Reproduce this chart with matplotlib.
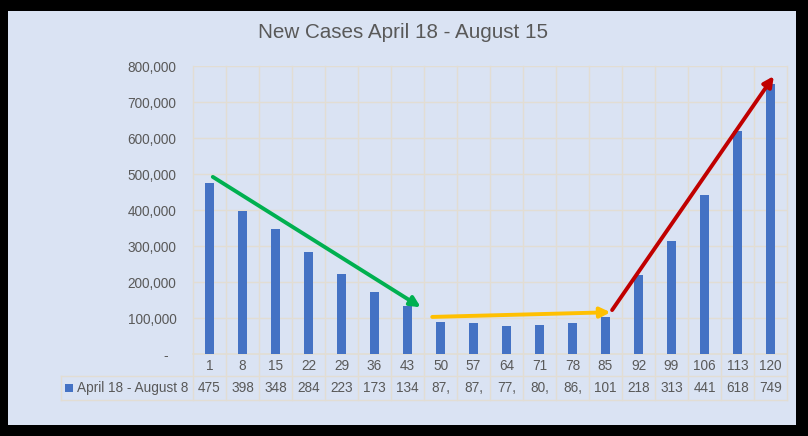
import matplotlib.pyplot as plt
from matplotlib.patches import Rectangle
import numpy as np

days = [1, 8, 15, 22, 29, 36, 43, 50, 57, 64, 71, 78, 85, 92, 99, 106, 113, 120]
new_cases = [475200, 398400, 348100, 284500, 223300, 173600, 134200, 87900, 87300,
             77500, 80400, 86700, 101500, 218600, 313900, 441200, 618300, 749100]
series_name = "April 18 - August 8"
title = "New Cases April 18 - August 15"
yticks = [0, 100000, 200000, 300000, 400000, 500000, 600000, 700000, 800000]

# trend arrows drawn over the bars: (x0, y0, x1, y1, colour)
arrows = [
    (0.1, 492000, 6.4, 130000, "#00b050"),
    (6.75, 103000, 12.15, 116000, "#ffc000"),
    (12.2, 122000, 17.1, 772000, "#c00000"),
]

W, H = 808, 436
BG = "#dae3f3"
GRID = "#e2ddd3"
TXT = "#595959"
BAR = "#4472c4"
FONT = "Liberation Sans"

fig = plt.figure(figsize=(W / 100, H / 100), dpi=100, facecolor="black")
fig.patches.append(Rectangle((8 / W, 1 - 425 / H), 788 / W, 414 / H,
                             transform=fig.transFigure, facecolor=BG, edgecolor="none",
                             zorder=-10))

L, R, T, B = 193, 787, 66, 354
ax = fig.add_axes([L / W, 1 - B / H, (R - L) / W, (B - T) / H])
ax.patch.set_alpha(0)

x = np.arange(len(days))
ax.bar(x, new_cases, width=0.3, color=BAR, zorder=3)
ax.set_xlim(-0.5, len(days) - 0.5)
ax.set_ylim(0, 800000)
ax.set_yticks(yticks)
ax.set_yticklabels([f"{v:,}" if v else "-  " for v in yticks],
                   fontsize=9.8, color=TXT, family=FONT)
ax.tick_params(axis="y", length=0, pad=12)
ax.set_xticks([])
for s in ax.spines.values():
    s.set_visible(False)
for v in yticks[1:]:
    ax.axhline(v, color=GRID, lw=1, zorder=1)

# data table below the plot, in pixel rows
row1, row2, row3 = 354, 376, 400
ytr = lambda py: (B - py) / (B - T)
trans = ax.get_xaxis_transform()
for xb in np.arange(-0.5, len(days)):
    ax.plot([xb, xb], [1, ytr(row3)], transform=trans, color=GRID, lw=1,
            clip_on=False, zorder=1)
ax.plot([-0.5, len(days) - 0.5], [0, 0], transform=trans, color=GRID, lw=1.2,
        clip_on=False, zorder=2)
lx = -0.5 - (L - 61) / ((R - L) / len(days))
for py in (row2, row3):
    ax.plot([lx, len(days) - 0.5], [ytr(py), ytr(py)], transform=trans, color=GRID,
            lw=1, clip_on=False, zorder=1)
ax.plot([lx, lx], [ytr(row2), ytr(row3)], transform=trans, color=GRID, lw=1,
        clip_on=False, zorder=1)

for xi, d, v in zip(x, days, new_cases):
    ax.text(xi, ytr((row1 + row2) / 2 + 1), str(d), transform=trans, ha="center",
            va="center", fontsize=9.8, color=TXT, family=FONT)
    ax.text(xi, ytr((row2 + row3) / 2), f"{v:,}"[:3], transform=trans, ha="center",
            va="center", fontsize=9.8, color=TXT, family=FONT)

fig.patches.append(Rectangle((65 / W, 1 - 392 / H), 8 / W, 8 / H,
                             transform=fig.transFigure, facecolor=BAR, edgecolor="none"))
fig.text(77 / W, 1 - 388 / H, series_name, ha="left", va="center",
         fontsize=9.8, color=TXT, family=FONT)

for x0, y0, x1, y1, c in arrows:
    ax.annotate("", xy=(x1, y1), xytext=(x0, y0),
                arrowprops=dict(arrowstyle="-|>", color=c, lw=2.8,
                                mutation_scale=15, shrinkA=0, shrinkB=0),
                zorder=5)

fig.text(403 / W, 1 - 33 / H, title, ha="center", va="center",
         fontsize=14.9, color=TXT, family=FONT)

fig.savefig("out.png", dpi=100, facecolor="black")
